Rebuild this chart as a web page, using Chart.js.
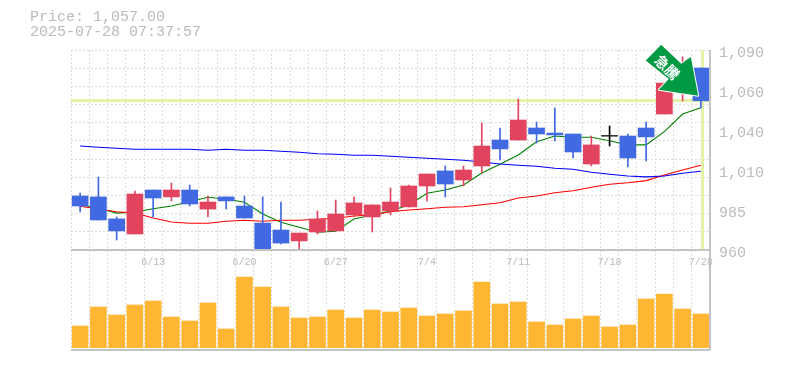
<!DOCTYPE html>
<html>
<head>
<meta charset="utf-8">
<style>
html,body{margin:0;padding:0;background:#fff;width:785px;height:370px;overflow:hidden}
canvas{position:absolute;left:0}
#vol{top:250px}
#price{top:0}
.t{position:absolute;left:30px;font:15px "Liberation Mono",monospace;color:#bbb;line-height:16px;white-space:pre}
</style>
<script src="https://cdn.jsdelivr.net/npm/chart.js@4"></script>
</head>
<body>
<canvas id="vol" width="785" height="120"></canvas>
<canvas id="price" width="785" height="275"></canvas>
<div class="t" style="top:10px">Price: 1,057.00</div>
<div class="t" style="top:25px">2025-07-28 07:37:57</div>
<script>
const dates=["6/9","6/10","6/11","6/12","6/13","6/16","6/17","6/18","6/19","6/20","6/23","6/24","6/25","6/26","6/27","6/30","7/1","7/2","7/3","7/4","7/7","7/8","7/9","7/10","7/11","7/14","7/15","7/16","7/17","7/18","7/22","7/23","7/24","7/25","7/28"];
const open=[995.1,994.5,980.2,970.4,999,994.5,999,986.6,994.5,988.6,977.5,973,965.9,971.7,972.4,982.8,981.5,985.4,988,1001.6,1011.4,1005.5,1014.6,1031.5,1031.5,1039.3,1036,1035.4,1015.9,1034,1034.1,1039.3,1048.4,1064,1078.3];
const close=[988.6,979.5,972.4,996.4,993.8,999,989.9,991.2,991.9,980.8,960.6,964.5,971,980.2,983.4,990.6,989.3,991.2,1001.6,1009.4,1002.9,1012,1027.6,1025.7,1044.5,1035.4,1034.8,1023.7,1028.3,1034,1019.8,1033.5,1068.5,1080,1057];
const high=[997,1007.5,981.5,998.3,999,1003.5,1002.2,995.1,994.5,995.1,994.5,991.2,971,985.4,992.5,994.5,989.3,1000.3,1002.2,1009.4,1014.6,1014.6,1042.6,1039.3,1058.2,1043.2,1052.3,1035.4,1034.1,1040.6,1035.4,1043.2,1068.5,1085.5,1078.3];
const low=[984.7,979.5,966.5,970.4,981.5,991.9,988.6,981.5,986.6,980.8,959.3,963.9,959.3,970.4,972.4,981.5,971.7,982.8,988,991.9,994.5,1001.6,1010,1018.5,1031.5,1029.5,1030.9,1019.8,1014.6,1027.6,1014,1017.9,1048.4,1056.9,1052.3];
const ma5=[989.4,987.3,984,984.7,986.8,988.6,991.4,994.3,993.2,991,983.4,978,974.8,971.5,972.2,980.2,982.8,985.4,989.3,996.9,999,1002.3,1010,1015.7,1021.8,1030.4,1034.1,1033.3,1033.3,1031,1028.3,1028.3,1036.9,1048.4,1052.5];
const ma25=[988.4,986.7,984.9,984,980.8,978.2,977.4,977.4,978.7,979.3,978.7,979.3,979.3,980,980.6,982.1,982.8,984.9,986,986.8,987.8,988.1,989.4,990.7,993.8,995.1,997.2,998.5,1000.8,1002.7,1003.7,1005.1,1008.8,1012,1015.1];
const ma75=[1027.6,1026.8,1026.1,1025.5,1025.5,1025.5,1025.5,1024.8,1025.5,1024.8,1024.8,1024.2,1023.5,1022.6,1022.2,1021.6,1021.6,1020.9,1020.3,1019.6,1019,1018.3,1017.2,1015.9,1015.1,1014.4,1013.1,1012.5,1010.5,1009.2,1008.1,1007.5,1008.1,1009.9,1011.2];
const volume=[21700,40700,32700,42700,46700,30700,26700,44700,18700,70700,60700,40700,29700,30700,37700,29700,37700,35700,39700,31700,33700,36700,65700,43700,45700,25700,22700,28700,31700,20700,22700,48700,53700,38700,33700];
const priceTickLabels=["960","985","1,010","1,040","1,060","1,090"];
const lastPrice=1057;
const badgeText="急騰";

const UP="#e2435f",DOWN="#4169e1",DOJI="#000000",MUTED="#bbbbbb",FRAME="#c4c4c4",GRID="#dddddd",MARK="#e2f2a6",VOL="#ffb733";
const colors=dates.map((_,i)=>close[i]===open[i]?DOJI:(close[i]>open[i]?UP:DOWN));
const bodies=dates.map((_,i)=>close[i]===open[i]?[open[i],open[i]+0.4]:[open[i],close[i]]);
const wicks=dates.map((_,i)=>[low[i],high[i]]);
const MONO='"Liberation Mono",monospace';

const frameStroke=(ctx,segs)=>{ctx.save();ctx.strokeStyle=FRAME;ctx.lineWidth=2;ctx.beginPath();
  segs.forEach(s=>{ctx.moveTo(s[0],s[1]);ctx.lineTo(s[2],s[3]);});ctx.stroke();ctx.restore();};

const markers={id:'markers',
 beforeDatasetsDraw(ch){
  const {ctx,chartArea:a,scales:{x,y}}=ch;
  ctx.save();
  ctx.fillStyle=MARK;
  ctx.fillRect(a.left,Math.round(y.getPixelForValue(lastPrice))-2,a.right-a.left,3);
  ctx.fillRect(Math.round(x.getPixelForValue(dates.length-1)),a.top,3,a.bottom-a.top);
  ctx.restore();
 },
 afterDraw(ch){
  const {ctx,chartArea:a,scales:{x,y}}=ch;
  frameStroke(ctx,[[a.right,a.top,a.right,a.bottom],[a.left,a.bottom,a.right,a.bottom]]);
  ctx.save();
  const tx=x.getPixelForValue(dates.length-1)-2.7,ty=y.getPixelForValue(lastPrice)-5;
  const P=[[-37,-51],[-17,-32],[-7.4,-38.7],[0,0],[-39.4,-6],[-29.4,-16.7],[-52.4,-35.3]];
  ctx.beginPath();
  P.forEach((p,i)=>i?ctx.lineTo(tx+p[0],ty+p[1]):ctx.moveTo(tx+p[0],ty+p[1]));
  ctx.closePath();
  ctx.lineJoin='round';ctx.strokeStyle='#ffffff';ctx.lineWidth=2;ctx.stroke();
  ctx.fillStyle='#009944';ctx.fill();
  ctx.translate(tx-31,ty-28.5);ctx.rotate(Math.PI/4);
  ctx.fillStyle='#ffffff';ctx.font='bold 14px "Noto Sans CJK JP"';
  ctx.textAlign='center';ctx.textBaseline='middle';
  ctx.fillText(badgeText,0,0);
  ctx.restore();
 }};

const volFrame={id:'volFrame',afterDraw(ch){const a=ch.chartArea;
  frameStroke(ch.ctx,[[a.right,a.top,a.right,a.bottom],[a.left,a.bottom,a.right,a.bottom]]);}};

new Chart(document.getElementById('price'),{
 data:{labels:dates,datasets:[
  {type:'line',data:ma75,borderColor:'#0000ff',borderWidth:1.1,pointRadius:0,tension:0,yAxisID:'y',order:3},
  {type:'line',data:ma25,borderColor:'#ff0000',borderWidth:1.1,pointRadius:0,tension:0,yAxisID:'y',order:3},
  {type:'line',data:ma5,borderColor:'#008000',borderWidth:1.1,pointRadius:0,tension:0,yAxisID:'y',order:3},
  {type:'bar',data:wicks,backgroundColor:colors,barThickness:1,yAxisID:'y',order:2,grouped:false},
  {type:'bar',data:bodies,backgroundColor:colors,barThickness:16,yAxisID:'y',order:1,grouped:false}
 ]},
 options:{
  responsive:false,animation:false,
  layout:{padding:{left:71,top:50,right:0,bottom:0}},
  plugins:{legend:{display:false},tooltip:{enabled:false}},
  scales:{
   x:{type:'category',position:'bottom',afterFit(s){s.height=25;},
      grid:{color:GRID,drawTicks:false,offset:true},
      border:{dash:[2,2],display:false},
      ticks:{autoSkip:false,maxRotation:0,padding:6,color:MUTED,font:{family:MONO,size:10},
        callback:(v,i)=>(i%5===4?dates[i]:'')}},
   y:{type:'linear',position:'right',min:960,max:1090,afterFit(s){s.width=0;},
      afterBuildTicks(s){const t=[];for(let k=0;k<=11;k++)t.push({value:960+k*130/11});s.ticks=t;},
      grid:{color:GRID,drawTicks:false},border:{dash:[2,2],display:false},ticks:{display:false}},
   p:{type:'linear',position:'right',min:960,max:1090,afterFit(s){s.width=75;},
      afterBuildTicks(s){s.ticks=priceTickLabels.map((_,k)=>({value:960+k*26}));},
      grid:{display:false},border:{display:false},
      ticks:{padding:1,labelOffset:3,color:MUTED,font:{family:MONO,size:15},
        callback:(v,i)=>priceTickLabels[i]}}
  }
 },
 plugins:[markers]
});

new Chart(document.getElementById('vol'),{
 data:{labels:dates,datasets:[
  {type:'bar',data:volume,backgroundColor:VOL,barThickness:16,yAxisID:'v'}
 ]},
 options:{
  responsive:false,animation:false,
  layout:{padding:{left:71,top:0,right:75,bottom:20}},
  plugins:{legend:{display:false},tooltip:{enabled:false}},
  scales:{
   x:{type:'category',position:'bottom',afterFit(s){s.height=0;},
      grid:{color:GRID,drawTicks:false,offset:true},
      border:{dash:[2,2],display:false},ticks:{display:false}},
   v:{type:'linear',position:'right',min:-2300,max:97700,afterFit(s){s.width=0;},
      grid:{display:false},border:{display:false},ticks:{display:false}}
  }
 },
 plugins:[volFrame]
});
</script>
</body>
</html>
